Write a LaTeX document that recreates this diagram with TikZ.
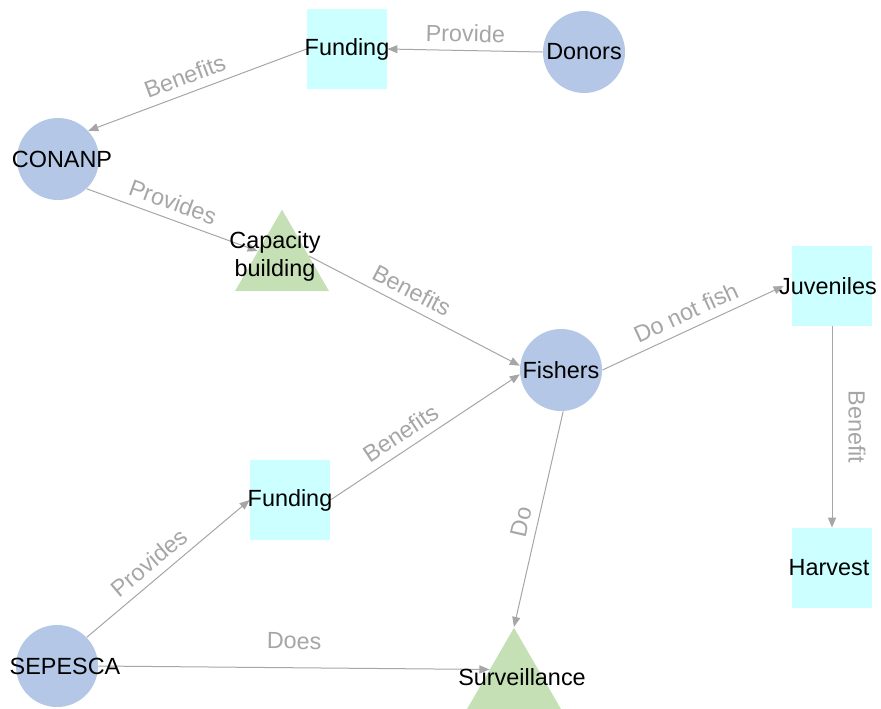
\documentclass[tikz,border=0pt]{standalone}
\usepackage{fontspec}
\setmainfont{Liberation Sans}
\usetikzlibrary{shapes.geometric, arrows.meta, backgrounds}
\definecolor{actorblue}{HTML}{B4C7E7}
\definecolor{rescyan}{HTML}{CCFFFF}
\definecolor{actgreen}{HTML}{C5E0B4}
\definecolor{linkgray}{HTML}{A6A6A6}

\begin{document}
\begin{tikzpicture}[x=0.5pt, y=-0.5pt,
    actor/.style={circle, draw=none, fill=actorblue, minimum size=41pt, inner sep=0pt},
    resource/.style={rectangle, draw=none, fill=rescyan, minimum size=40pt, inner sep=0pt},
    action/.style={regular polygon, regular polygon sides=3, draw=none, fill=actgreen,
        minimum size=54.3pt, inner sep=0pt},
    txt/.style={font=\fontsize{11.7pt}{14pt}\selectfont, text=black, align=center, inner sep=0pt},
    link/.style={draw=linkgray, line width=0.5pt, -{Triangle[length=5pt, width=4pt]}},
    tag/.style={font=\fontsize{11.7pt}{14pt}\selectfont, text=linkgray, inner sep=4pt},
    linktext/.style={tag, sloped, above}
]
\useasboundingbox (0,0) rectangle (881,708);
\clip (0,0) rectangle (881,708);

% actors, resources and actions
\node (Donors) [actor, label={[txt]center:Donors}] at (584,52) {};
\node (Funding01) [resource, label={[txt]center:Funding}] at (347,49) {};
\node (Conanp) [actor, label={[txt, xshift=2pt]center:CONANP}] at (58,159) {};
\node (Capacity) [action, label={[txt, xshift=-3.5pt, yshift=4pt]center:{Capacity\\building}}] at (282,264) {};
\node (Fishers) [actor, label={[txt]center:Fishers}] at (561,370) {};
\node (Juveniles) [resource, label={[txt, xshift=-2pt]center:Juveniles}] at (832,286) {};
\node (Harvest) [resource, label={[txt, xshift=-1.5pt]center:Harvest}] at (832,568) {};
\node (Funding02) [resource, label={[txt]center:Funding}] at (290,500) {};
\node (Sepesca) [actor, label={[txt, xshift=4pt]center:SEPESCA}] at (57,666) {};
\node (Surveillance) [action, label={[txt, xshift=4pt, yshift=2.5pt]center:Surveillance}] at (514,682) {};

% relations
\begin{scope}[on background layer]
    \draw[link] (Donors.west) -- node[linktext] {Provide} (Funding01.east);
    \draw[link] (Funding01.west) -- node[linktext, pos=0.53] {Benefits} (Conanp.43);
    \draw[link] (Conanp.-46) -- node[linktext, pos=0.47] {Provides} (Capacity.152);
    \draw[link] (Capacity.16) -- node[linktext, pos=0.45] {Benefits} (Fishers.174);
    \draw[link] (Funding02.east) -- node[linktext, pos=0.42] {Benefits} (Fishers.186);
    \draw[link] (Fishers.east) -- node[linktext] {Do not fish} ([xshift=-4pt]Juveniles.west);
    \draw[link] (Juveniles.south) -- node[tag, rotate=-90, anchor=south, inner sep=8pt] {Benefit} (Harvest.north);
    \draw[link] (Fishers.-87) -- node[linktext, pos=0.53] {Do} (Surveillance.corner 1);
    \draw[link] (Sepesca.44) -- node[linktext, pos=0.45] {Provides} (Funding02.west);
    \draw[link] (Sepesca.east) -- node[linktext, inner sep=9pt] {Does} (Surveillance.153);
\end{scope}

\end{tikzpicture}
\end{document}
